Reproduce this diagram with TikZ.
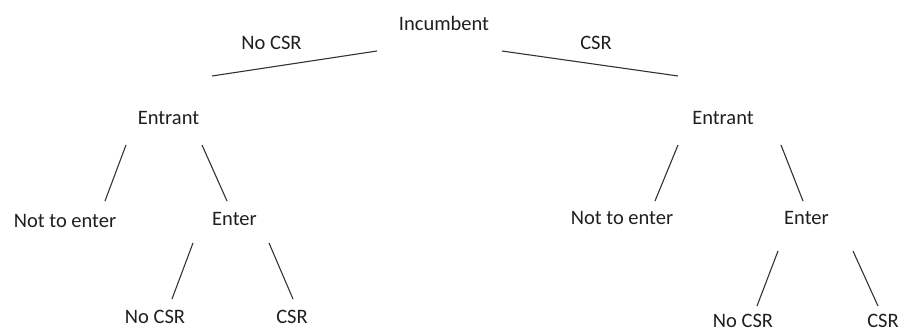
\documentclass[tikz,border=0pt]{standalone}
\usepackage{fontspec}
\setmainfont{Carlito}
\begin{document}
\begin{tikzpicture}[x=1pt,y=-1pt,
  lbl/.style={anchor=base,inner sep=0pt,text=black!88,font=\fontsize{20.5}{24}\selectfont},
  edge/.style={draw=black!80,line width=1.1pt}]
\useasboundingbox (0,0) rectangle (900,327);
% nodes
\node[lbl] (inc) at (444,30) {Incumbent};
\node[lbl] (lnocsr) at (271.5,49) {No CSR};
\node[lbl] (lcsr) at (596,49) {CSR};
\node[lbl] (ent1) at (168.5,124) {Entrant};
\node[lbl] (ent2) at (723,124) {Entrant};
\node[lbl] (nte1) at (65,227) {Not to enter};
\node[lbl] (en1) at (234.5,225) {Enter};
\node[lbl] (nte2) at (622,224) {Not to enter};
\node[lbl] (en2) at (806.5,224) {Enter};
\node[lbl] (nc1) at (155,323) {No CSR};
\node[lbl] (c1) at (292,323) {CSR};
\node[lbl] (nc2) at (743,327) {No CSR};
\node[lbl] (c2) at (883,327) {CSR};
% connector ends
\coordinate (a1) at (377,51);  \coordinate (a2) at (212,76);
\coordinate (b1) at (502,51);  \coordinate (b2) at (678,76);
\coordinate (c1s) at (126,145); \coordinate (c1e) at (105,201);
\coordinate (d1s) at (202,145); \coordinate (d1e) at (227,201);
\coordinate (e1s) at (193,243); \coordinate (e1e) at (172,299);
\coordinate (f1s) at (269,243); \coordinate (f1e) at (293,299);
\coordinate (c2s) at (678,145); \coordinate (c2e) at (655,201);
\coordinate (d2s) at (781,145); \coordinate (d2e) at (803,201);
\coordinate (e2s) at (778,251); \coordinate (e2e) at (757,306);
\coordinate (f2s) at (853,251); \coordinate (f2e) at (878,306);
% connectors
\draw[edge] (a1) -- (a2);
\draw[edge] (b1) -- (b2);
\draw[edge] (c1s) -- (c1e);
\draw[edge] (d1s) -- (d1e);
\draw[edge] (e1s) -- (e1e);
\draw[edge] (f1s) -- (f1e);
\draw[edge] (c2s) -- (c2e);
\draw[edge] (d2s) -- (d2e);
\draw[edge] (e2s) -- (e2e);
\draw[edge] (f2s) -- (f2e);
\end{tikzpicture}
\end{document}
